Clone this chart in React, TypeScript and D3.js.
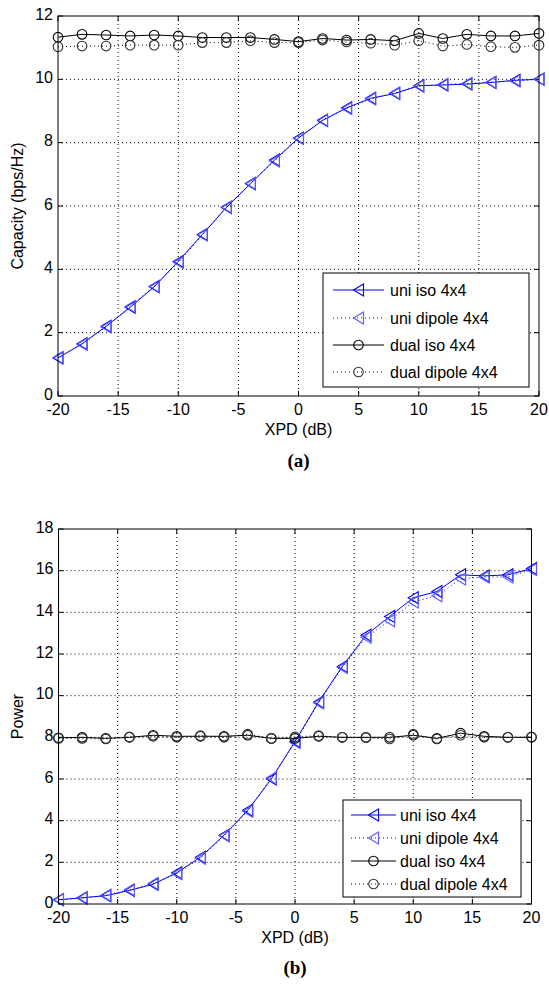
import React from "react";
import * as d3 from "d3";

// x values shared by both panels
const xpd = [-20, -18, -16, -14, -12, -10, -8, -6, -4, -2, 0, 2, 4, 6, 8, 10, 12, 14, 16, 18, 20];

// (a) capacity
const capUniIso = [1.2, 1.65, 2.2, 2.8, 3.45, 4.25, 5.1, 5.95, 6.7, 7.45, 8.15, 8.7, 9.1, 9.4, 9.55, 9.8, 9.82, 9.85, 9.9, 9.97, 10.0];
const capUniDipole = [1.22, 1.63, 2.18, 2.83, 3.47, 4.22, 5.08, 5.97, 6.72, 7.42, 8.13, 8.72, 9.08, 9.38, 9.57, 9.78, 9.84, 9.87, 9.91, 9.95, 10.01];
const capDualIso = [11.33, 11.42, 11.4, 11.37, 11.4, 11.37, 11.32, 11.32, 11.32, 11.26, 11.19, 11.29, 11.24, 11.26, 11.22, 11.45, 11.29, 11.42, 11.37, 11.37, 11.45];
const capDualDipole = [11.03, 11.05, 11.05, 11.08, 11.08, 11.08, 11.16, 11.16, 11.22, 11.16, 11.16, 11.24, 11.18, 11.14, 11.08, 11.22, 11.05, 11.1, 11.03, 11.01, 11.08];

// (b) power
const powUniIso = [0.2, 0.3, 0.4, 0.65, 0.95, 1.5, 2.25, 3.3, 4.5, 6.0, 7.8, 9.7, 11.4, 12.9, 13.8, 14.7, 15.0, 15.8, 15.75, 15.8, 16.1];
const powUniDipole = [0.22, 0.28, 0.42, 0.68, 0.98, 1.45, 2.2, 3.28, 4.45, 6.05, 7.75, 9.65, 11.35, 12.8, 13.6, 14.5, 14.8, 15.6, 15.7, 15.7, 16.05];
const powDualIso = [7.98, 8.0, 7.95, 8.0, 8.1, 8.05, 8.05, 8.05, 8.1, 7.95, 7.95, 8.05, 8.0, 8.0, 8.0, 8.1, 7.95, 8.2, 8.05, 8.0, 8.0];
const powDualDipole = [7.95, 7.95, 7.92, 8.02, 8.05, 8.0, 8.08, 8.0, 8.15, 7.95, 8.02, 8.08, 8.0, 7.98, 7.92, 8.15, 7.92, 8.1, 8.0, 8.0, 8.02];

const xTicks = [-20, -15, -10, -5, 0, 5, 10, 15, 20];
const capTicks = [0, 2, 4, 6, 8, 10, 12];
const powTicks = [0, 2, 4, 6, 8, 10, 12, 14, 16, 18];

const legendNames = ["uni iso 4x4", "uni dipole 4x4", "dual iso 4x4", "dual dipole 4x4"];

const FONT = "'Liberation Sans', Arial, sans-serif";
const FS = 16;

type Series = { values: number[]; color: string; markColor: string; dash: string | null; marker: "tri" | "circ" };

function Marker({ kind, x, y, color }: { kind: string; x: number; y: number; color: string }) {
  if (kind === "tri") {
    const r = 5;
    return <path d={`M${x - r},${y}L${x + r},${y - 6}L${x + r},${y + 6}Z`} fill="none" stroke={color} strokeWidth={1.1} />;
  }
  return <circle cx={x} cy={y} r={4.8} fill="none" stroke={color} strokeWidth={1.1} />;
}

function Panel(props: {
  left: number; right: number; top: number; bottom: number;
  yMax: number; yTicks: number[]; series: Series[]; ylabel: string; tag: string; tagDy: number;
  legend: { x0: number; y0: number; x1: number; y1: number; rows: number[]; lx0: number; lx1: number; tx: number };
}) {
  const { left, right, top, bottom, yMax, yTicks, series, ylabel, tag, tagDy, legend } = props;
  const x = d3.scaleLinear().domain([-20, 20]).range([left, right]);
  const y = d3.scaleLinear().domain([0, yMax]).range([bottom, top]);
  const line = d3.line<number>().x((_, i) => x(xpd[i])).y((d) => y(d));
  const grid = "1,3";
  return (
    <g>
      {xTicks.slice(1, -1).map((t) => (
        <line key={"gx" + t} x1={x(t)} x2={x(t)} y1={top} y2={bottom} stroke="#000" strokeWidth={1} strokeDasharray={grid} />
      ))}
      {yTicks.slice(1, -1).map((t) => (
        <line key={"gy" + t} x1={left} x2={right} y1={y(t)} y2={y(t)} stroke="#000" strokeWidth={1} strokeDasharray={grid} />
      ))}
      {xTicks.map((t) => (
        <g key={"tx" + t}>
          <line x1={x(t)} x2={x(t)} y1={bottom} y2={bottom - 5} stroke="#000" />
          <line x1={x(t)} x2={x(t)} y1={top} y2={top + 5} stroke="#000" />
          <text x={x(t)} y={bottom + 19} textAnchor="middle" fontSize={FS} fontFamily={FONT}>{t}</text>
        </g>
      ))}
      {yTicks.map((t) => (
        <g key={"ty" + t}>
          <line x1={left} x2={left + 5} y1={y(t)} y2={y(t)} stroke="#000" />
          <line x1={right} x2={right - 5} y1={y(t)} y2={y(t)} stroke="#000" />
          <text x={left - 5} y={y(t) + 3.5} textAnchor="end" fontSize={FS} fontFamily={FONT}>{t}</text>
        </g>
      ))}
      {series.map((s, k) => (
        <g key={"s" + k}>
          <path d={line(s.values) || ""} fill="none" stroke={s.color} strokeWidth={1} strokeDasharray={s.dash || undefined} />
          {s.values.map((v, i) => (
            <Marker key={i} kind={s.marker} x={x(xpd[i])} y={y(v)} color={s.markColor} />
          ))}
        </g>
      ))}
      <rect x={left} y={top} width={right - left} height={bottom - top} fill="none" stroke="#000" strokeWidth={1} />
      <text x={(left + right) / 2} y={bottom + 39} textAnchor="middle" fontSize={FS} fontFamily={FONT}>XPD (dB)</text>
      <text transform={`translate(23,${(top + bottom) / 2}) rotate(-90)`} textAnchor="middle" fontSize={FS} fontFamily={FONT}>{ylabel}</text>
      <text x={(left + right) / 2} y={bottom + tagDy} textAnchor="middle" fontSize={19} fontWeight="bold" fontFamily="'Liberation Serif', 'Times New Roman', serif">{tag}</text>
      <rect x={legend.x0} y={legend.y0} width={legend.x1 - legend.x0} height={legend.y1 - legend.y0} fill="#fff" stroke="#000" strokeWidth={1} />
      {series.map((s, k) => (
        <g key={"l" + k}>
          <line x1={legend.lx0} x2={legend.lx1} y1={legend.rows[k]} y2={legend.rows[k]} stroke={s.color} strokeDasharray={s.dash || undefined} />
          <Marker kind={s.marker} x={(legend.lx0 + legend.lx1) / 2} y={legend.rows[k]} color={s.markColor} />
          <text x={legend.tx} y={legend.rows[k] + 6} fontSize={FS} fontFamily={FONT}>{legendNames[k]}</text>
        </g>
      ))}
    </g>
  );
}

export default function App() {
  const mk = (a: number[], b: number[], c: number[], d: number[]): Series[] => [
    { values: a, color: "#0000ff", markColor: "#0000ff", dash: null, marker: "tri" },
    { values: b, color: "#0000ff", markColor: "#5a5aff", dash: "1,3", marker: "tri" },
    { values: c, color: "#000", markColor: "#000", dash: null, marker: "circ" },
    { values: d, color: "#000", markColor: "#333", dash: "1,3", marker: "circ" },
  ];
  return (
    <svg width={549} height={985} style={{ position: "absolute", left: 0, top: 0, background: "#fff" }}>
      <Panel left={58} right={539} top={16} bottom={396} yMax={12} yTicks={capTicks}
        series={mk(capUniIso, capUniDipole, capDualIso, capDualDipole)} ylabel="Capacity (bps/Hz)" tag="(a)" tagDy={71}
        legend={{ x0: 323, y0: 273, x1: 529, y1: 387, rows: [290, 318, 345, 372], lx0: 333, lx1: 384, tx: 390 }} />
      <Panel left={58.5} right={531.5} top={529} bottom={904} yMax={18} yTicks={powTicks}
        series={mk(powUniIso, powUniDipole, powDualIso, powDualDipole)} ylabel="Power" tag="(b)" tagDy={70}
        legend={{ x0: 343, y0: 800, x1: 521, y1: 897, rows: [815, 838, 861, 884], lx0: 351, lx1: 396, tx: 400 }} />
    </svg>
  );
}
